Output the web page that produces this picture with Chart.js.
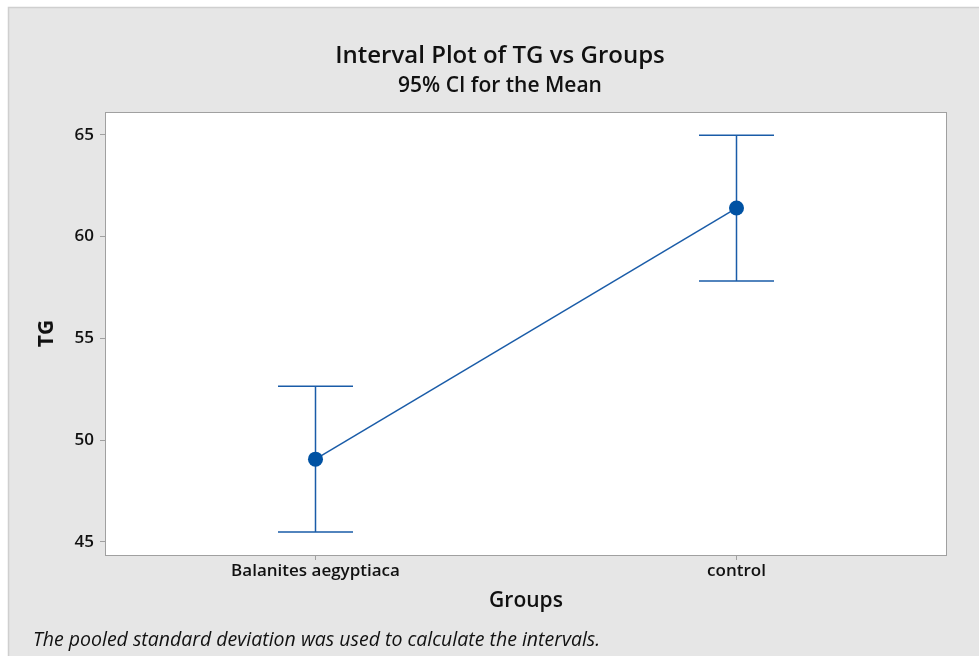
<!DOCTYPE html>
<html>
<head>
<meta charset="utf-8">
<title>Interval Plot of TG vs Groups</title>
<script src="https://cdn.jsdelivr.net/npm/chart.js@4.4.1/dist/chart.umd.min.js"></script>
<style>
  html, body { margin: 0; padding: 0; background: #ffffff; }
  #wrap { width: 979px; height: 656px; position: relative; }
</style>
</head>
<body>
<div id="wrap"><canvas id="chart" width="979" height="656"></canvas></div>
<script>
// Groups and TG summary (mean with 95% CI, pooled SD)
const groups = ['Balanites aegyptiaca', 'control'];
const tgMean = [49.06, 61.40];
const ciLower = [45.48, 57.82];
const ciUpper = [52.64, 64.98];
const yTicks = [45, 50, 55, 60, 65];

const titleText = 'Interval Plot of TG vs Groups';
const subtitleText = '95% CI for the Mean';
const footnoteText = 'The pooled standard deviation was used to calculate the intervals.';

const FONT = '"Open Sans", "Noto Sans", sans-serif';
const BLUE_LINE = '#1a5ca8';
const BLUE_DOT = '#0052a3';

// Gray frame, white plot panel and panel border
const framePlugin = {
  id: 'frame',
  beforeDraw(chart) {
    const { ctx, width, height, chartArea: a } = chart;
    ctx.save();
    ctx.fillStyle = '#ffffff';
    ctx.fillRect(0, 0, width, height);
    ctx.fillStyle = '#e6e6e6';
    ctx.fillRect(8, 7, width - 8, height - 7);
    ctx.strokeStyle = '#cfcfcf';
    ctx.lineWidth = 1.5;
    ctx.beginPath();
    ctx.moveTo(8.5, height);
    ctx.lineTo(8.5, 7.5);
    ctx.lineTo(width, 7.5);
    ctx.stroke();
    ctx.fillStyle = '#ffffff';
    ctx.fillRect(a.left, a.top, a.right - a.left, a.bottom - a.top);
    ctx.restore();
  },
  afterDraw(chart) {
    const { ctx, chartArea: a } = chart;
    ctx.save();
    ctx.strokeStyle = '#a0a0a0';
    ctx.lineWidth = 1;
    ctx.strokeRect(a.left + 0.5, a.top + 0.5, a.right - a.left - 1, a.bottom - a.top);
    // titles and footnote
    ctx.fillStyle = '#111111';
    ctx.textAlign = 'center';
    ctx.textBaseline = 'alphabetic';
    ctx.font = '600 24px ' + FONT;
    ctx.fillText(titleText, 500, 63);
    ctx.font = '600 21px ' + FONT;
    ctx.fillText(subtitleText, 500, 92);
    ctx.textAlign = 'left';
    ctx.font = 'italic 19.5px ' + FONT;
    ctx.fillText(footnoteText, 33, 646);
    ctx.restore();
  }
};

// Vertical CI whiskers with caps, drawn from the data arrays via the scales
const errorBarPlugin = {
  id: 'errorBars',
  beforeDatasetsDraw(chart) {
    const { ctx, scales: { x, y } } = chart;
    const capHalf = 37.5;
    ctx.save();
    ctx.strokeStyle = BLUE_LINE;
    ctx.lineWidth = 1.5;
    groups.forEach((g, i) => {
      const px = x.getPixelForValue(i);
      const yLo = y.getPixelForValue(ciLower[i]);
      const yHi = y.getPixelForValue(ciUpper[i]);
      ctx.beginPath();
      ctx.moveTo(px, yLo);
      ctx.lineTo(px, yHi);
      ctx.moveTo(px - capHalf, yHi);
      ctx.lineTo(px + capHalf, yHi);
      ctx.moveTo(px - capHalf, yLo);
      ctx.lineTo(px + capHalf, yLo);
      ctx.stroke();
    });
    ctx.restore();
  }
};

function draw() {
  new Chart(document.getElementById('chart'), {
    type: 'line',
    data: {
      labels: groups,
      datasets: [{
        data: tgMean,
        borderColor: BLUE_LINE,
        borderWidth: 1.5,
        pointBackgroundColor: BLUE_DOT,
        pointBorderColor: BLUE_DOT,
        pointRadius: 7.5,
        pointBorderWidth: 0,
        tension: 0,
        fill: false
      }]
    },
    options: {
      responsive: false,
      animation: false,
      devicePixelRatio: 1,
      layout: { padding: { left: 0, top: 112, right: 32, bottom: 0 } },
      plugins: {
        legend: { display: false },
        tooltip: { enabled: false },
        title: { display: false }
      },
      scales: {
        x: {
          type: 'category',
          offset: true,
          afterFit(s) { s.height = 101; },
          grid: { drawOnChartArea: false, drawTicks: true, tickLength: 5, color: '#a0a0a0', offset: false },
          border: { display: false },
          ticks: { color: '#111111', padding: 1, font: { family: FONT, size: 17, weight: '600' } },
          title: {
            display: true, text: 'Groups', color: '#111111',
            font: { family: FONT, size: 21, weight: '600' },
            padding: { top: 0, bottom: 42 }
          }
        },
        y: {
          min: 44.35,
          max: 66.12,
          afterFit(s) { s.width = 105; },
          afterBuildTicks(s) { s.ticks = yTicks.map(v => ({ value: v })); },
          grid: { drawOnChartArea: false, drawTicks: true, tickLength: 5, color: '#a0a0a0' },
          border: { display: false },
          ticks: { color: '#111111', padding: 6, font: { family: FONT, size: 17, weight: '600' } },
          title: {
            display: true, text: 'TG', color: '#111111',
            font: { family: FONT, size: 21, weight: '700' },
            padding: { top: 34, bottom: 0 }
          }
        }
      }
    },
    plugins: [framePlugin, errorBarPlugin]
  });
}

Promise.all([
  document.fonts.load('600 16px "Open Sans"'),
  document.fonts.load('700 20px "Open Sans"'),
  document.fonts.load('italic 17px "Open Sans"')
]).then(draw, draw);
</script>
</body>
</html>
